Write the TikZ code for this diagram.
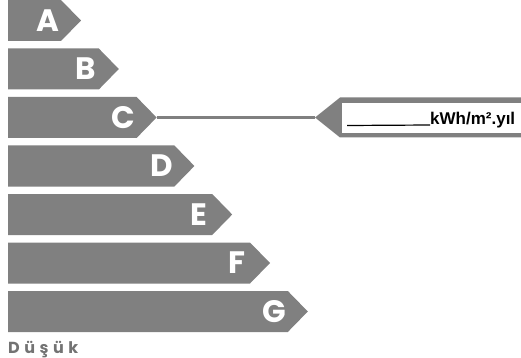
\documentclass[tikz,border=0pt]{standalone}
\usepackage{fontspec}
\newfontfamily\poppfont{Poppins}
\newfontfamily\arialfont{Liberation Sans}
\definecolor{bargray}{HTML}{808080}
\definecolor{txtgray}{HTML}{737373}
\begin{document}
\begin{tikzpicture}[x=1pt,y=-1pt,
  barfill/.style={fill=bargray,draw=none},
  barletter/.style={text=white,font=\poppfont\bfseries\fontsize{31}{31}\selectfont,inner sep=0pt,anchor=center},
  unitlabel/.style={font=\arialfont\bfseries\fontsize{17}{17}\selectfont,inner sep=0pt,anchor=base west},
  lowlabel/.style={text=txtgray,font=\poppfont\bfseries\fontsize{16}{16}\selectfont,inner sep=0pt,anchor=base west}]
\useasboundingbox (0,0) rectangle (521,358);
\foreach \L [count=\i from 0] in {A,B,C,D,E,F,G}{
  \pgfmathsetmacro{\top}{\i*48.5}
  \pgfmathsetmacro{\bot}{\top+41}
  \pgfmathsetmacro{\mid}{\top+20.5}
  \pgfmathsetmacro{\tip}{81+37.8*\i}
  \pgfmathsetmacro{\rend}{\tip-20}
  \fill[barfill] (8,\top) -- (\rend,\top) -- (\tip,\mid) -- (\rend,\bot) -- (8,\bot) -- cycle;
  \coordinate (tip\L) at (\tip,\mid);
  \node[barletter] (let\L) at (\tip-33,\mid) {\L};
}
% pointer
\coordinate (ptrtip) at (315,117.5);
\fill[barfill] (ptrtip) -- (340,97.5) -- (530,97.5) -- (530,137.5) -- (340,137.5) -- cycle;
\fill[white] (342,103) rectangle (530,133);
\draw[bargray,line width=3.5pt] (tipC) -- (ptrtip);
\coordinate (ulstart) at (347,125.5);
\node[unitlabel] (unit) at (430,125) {kWh/m².yıl};
\draw[black,line width=1.2pt] (ulstart) -- (unit.base west);
\node[lowlabel] (low) at (8,353) {D\hspace{4.5pt}ü\hspace{4.5pt}ş\hspace{4.5pt}ü\hspace{4.5pt}k};
\end{tikzpicture}
\end{document}
